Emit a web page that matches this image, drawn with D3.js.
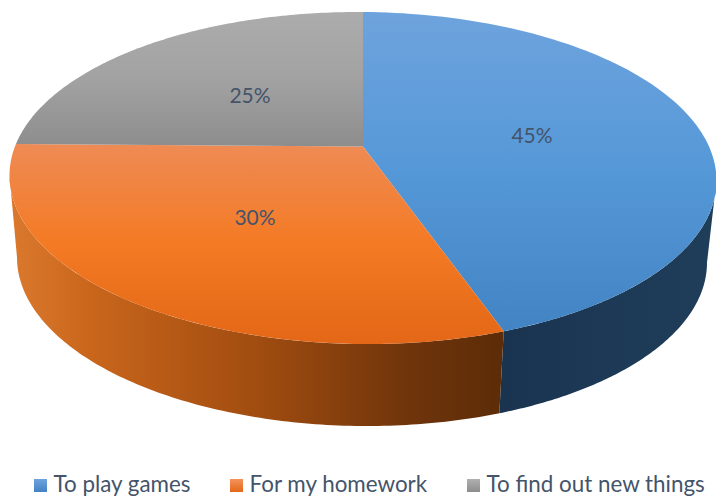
<!DOCTYPE html>
<html><head><meta charset="utf-8">
<script src="https://cdnjs.cloudflare.com/ajax/libs/d3/7.8.5/d3.min.js"></script>
<style>html,body{margin:0;padding:0;background:#fff}svg{display:block}</style>
</head><body><svg id="c" width="716" height="499"></svg>
<script>
const categories = ["To play games","For my homework","To find out new things"];
const shares = [44.6,30.4,25];

const svg = d3.select("#c");
const defs = svg.append("defs");
const sx = d3.scaleLinear().domain([-1,1]).range([9.5,716.5]);
const sy = d3.scaleLinear().domain([-1,1]).range([12,344]);
const bx = d3.scaleLinear().domain([-1,1]).range([17,707]);
const by = d3.scaleLinear().domain([-1,1]).range([94,426]);
const k = -0.19, q = Math.sqrt(1-k*k), roll = 2.5;
// circle -> ellipse under perspective
function warp(a,r){
  const u=r*Math.sin(a), v=-r*Math.cos(a), w=1+k*v;
  return [u*q/w,(v+k)/w];
}
const phiOf = a => { const p=warp(a,1); return Math.atan2(p[0],-p[1]); };
const rim = (xs,ys) => f => [xs(Math.sin(f)),ys(-Math.cos(f))+roll*Math.sin(f)];
const line = d3.line();
const steps = (f0,f1) => d3.range(0,121).map(i=>f0+(f1-f0)*i/120);

const arcs = d3.pie().sort(null).value(d=>d)(shares);

function grad(id,stops,x1,y1,x2,y2){
  const g=defs.append("linearGradient").attr("id",id).attr("gradientUnits","userSpaceOnUse")
    .attr("x1",x1).attr("y1",y1).attr("x2",x2).attr("y2",y2);
  stops.forEach(s=>g.append("stop").attr("offset",s[0]).attr("stop-color",s[1]));
}
grad("f0",[[0,"#6ea3dd"],[.5,"#5598d8"],[1,"#4283c3"]],0,12,0,332);
grad("f1",[[0,"#ee8b55"],[.5,"#f47a24"],[1,"#e36716"]],0,143,0,345);
grad("f2",[[0,"#acacac"],[.5,"#a2a2a2"],[1,"#8d8d8d"]],0,12,0,147);
grad("w0",[[0,"#1a3450"],[1,"#1f3e5a"]],500,0,716,0);
grad("w1",[[0,"#d9782c"],[.15,"#c9661c"],[.5,"#a04c10"],[.8,"#70350b"],[1,"#5c2c08"]],17,0,503,0);
grad("l0",[[0,"#6ea3dd"],[1,"#4283c3"]],0,0,0,1);
grad("l1",[[0,"#f4935c"],[1,"#e36716"]],0,0,0,1);
grad("l2",[[0,"#b0b0b0"],[1,"#8d8d8d"]],0,0,0,1);
defs.selectAll("linearGradient").filter(function(){return /^l/.test(this.id)}).attr("gradientUnits","objectBoundingBox");

// walls
const cut = phiOf(arcs[0].endAngle);
const walls = [[Math.PI/2,cut,"w0"],[cut,3*Math.PI/2,"w1"]];
svg.append("g").selectAll("path").data(walls).join("path")
  .attr("fill",d=>`url(#${d[2]})`)
  .attr("d",d=>{
    const t=steps(d[0],d[1]);
    return line([...t.map(rim(sx,sy)),...t.slice().reverse().map(rim(bx,by))])+"Z";
  });

// top face
const apex=[sx(warp(0,0)[0]),sy(warp(0,0)[1])];
svg.append("g").selectAll("path").data(arcs).join("path")
  .attr("fill",d=>`url(#f${d.index})`)
  .attr("d",d=>{
    const f0=phiOf(d.startAngle);
    let f1=phiOf(d.endAngle); 
    let a=f0; if(a<0)a+=2*Math.PI; let b=f1; if(b<=0)b+=2*Math.PI; if(d.endAngle>=2*Math.PI-1e-6)b=2*Math.PI;
    return line([apex,...steps(a,b).map(rim(sx,sy))])+"Z";
  });

// data labels
const fmt=d3.format(".0%");
const total=d3.sum(shares);
const labelAt=[[532,134.5],[255,216.5],[250,94.5]];
svg.append("g").selectAll("text").data(arcs).join("text")
  .attr("x",(d,i)=>labelAt[i][0]).attr("y",(d,i)=>labelAt[i][1])
  .attr("text-anchor","middle").attr("dominant-baseline","central")
  .attr("font-family","Lato").attr("font-size",21).attr("fill","#44546a")
  .text(d=>fmt(d.value/total));

// legend
const legendX=[34,230,467];
const lg=svg.append("g").selectAll("g").data(categories).join("g")
  .attr("transform",(d,i)=>`translate(${legendX[i]},0)`);
lg.append("rect").attr("y",479).attr("width",13).attr("height",13).attr("fill",(d,i)=>`url(#l${i})`);
lg.append("text").attr("x",19.5).attr("y",492).attr("font-family","Lato").attr("font-size",22.4)
  .attr("fill","#44546a").text(d=>d);
</script></body></html>
